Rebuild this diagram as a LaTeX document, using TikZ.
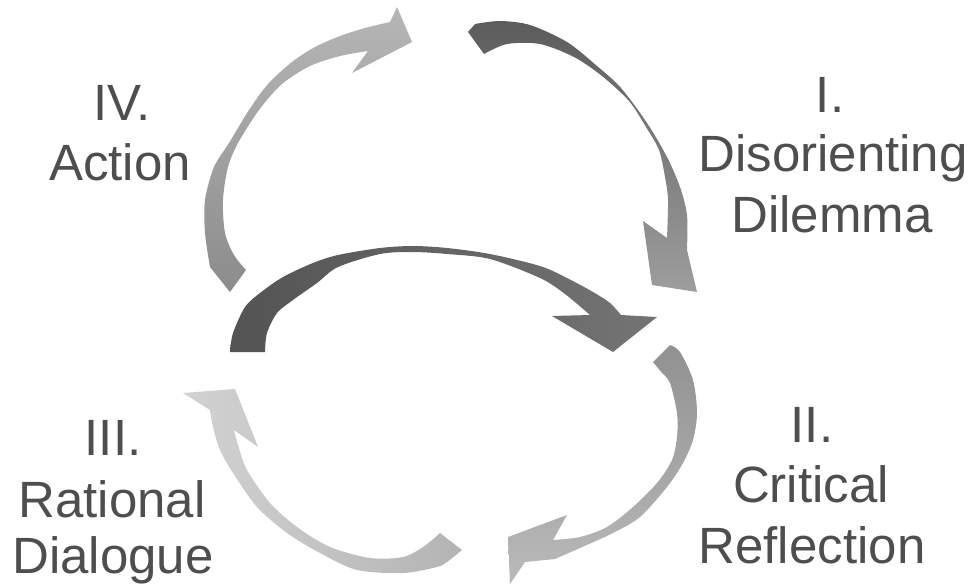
\documentclass[tikz,border=0pt]{standalone}
\usepackage{fontspec}
\setmainfont{Liberation Sans}
\definecolor{txt}{HTML}{4E4E4E}
\tikzset{
  lab/.style={anchor=base, inner sep=0pt, text=txt, font=\fontsize{51}{60}\selectfont},
  arr/.style={draw=none}
}
\begin{document}
\begin{tikzpicture}[x=1pt,y=-1pt]
\useasboundingbox (0,0) rectangle (970,584);
% Arrow IV (top left, light gray)
\shade[arr, bottom color={rgb,255:red,140;green,140;blue,140}, top color={rgb,255:red,182;green,182;blue,182}]
  (230,292) -- (210,267) -- plot[smooth] coordinates {(210,267) (205,233) (205,200) (214,167) (229,143) (249,110) (268,84) (292,62) (315,47) (340,36) (365,28) (390,22)}
  -- (397,7) -- (412,42) -- (352,73) -- (368,51)
  -- plot[smooth] coordinates {(368,51) (340,56) (310,66) (282,84) (259,110) (238,143) (228,167) (223,200) (225,233) (234,255) (246,270)} -- cycle;
% Arrow I (top right, dark)
\shade[arr, top color={rgb,255:red,92;green,92;blue,92}, bottom color={rgb,255:red,158;green,158;blue,158}]
  (468,32) -- plot[smooth] coordinates {(475,24) (500,21) (530,25) (567,42) (597,66) (621,88) (647,123) (667,157) (680,187) (687,215) (687,250)}
  -- (697,292) -- (652,285) -- (643,221) -- (667,238)
  -- plot[smooth] coordinates {(667,238) (668,200) (665,177) (659,150) (646,127) (629,101) (602,76) (574,57) (540,44) (507,44) (484,54)} -- cycle;
% Middle arrow (dark)
\shade[arr, left color={rgb,255:red,84;green,84;blue,84}, right color={rgb,255:red,116;green,116;blue,116}]
  (230,352) -- plot[smooth] coordinates {(230,352) (233,333) (245,307) (260,293) (283,277) (313,263) (338,255) (380,248) (413,246) (447,248) (490,254) (540,266) (567,278) (593,292) (610,303) (621,315)}
  -- (657,317) -- (613,352) -- (552,316) -- (590,315)
  -- plot[smooth] coordinates {(590,315) (565,294) (540,278) (490,259) (447,254) (413,252) (380,254) (338,267) (317,283) (293,300) (277,313) (267,333) (265,352)} -- cycle;
% Arrow II (bottom right, medium gray)
\shade[arr, top color={rgb,255:red,145;green,145;blue,145}, bottom color={rgb,255:red,186;green,186;blue,186}]
  (653,362) -- plot[smooth] coordinates {(670,345) (680,352) (693,380) (697,413) (693,440) (683,463) (667,487) (640,517) (613,533) (580,548) (555,559)}
  -- (525,562) -- (510,584) -- (508,537) -- (567,515) -- (553,540)
  -- plot[smooth] coordinates {(553,540) (580,537) (607,527) (633,507) (657,483) (672,460) (677,437) (677,413) (670,383) (662,373)} -- cycle;
% Arrow III (bottom left, light)
\shade[arr, left color={rgb,255:red,210;green,210;blue,210}, right color={rgb,255:red,180;green,180;blue,180}]
  (462,550) -- plot[smooth] coordinates {(462,550) (447,562) (437,567) (403,573) (357,570) (320,553) (287,533) (257,507) (233,473) (220,450) (213,427) (210,410)}
  -- (183,393) -- (235,389) -- (258,447) -- (234,430)
  -- plot[smooth] coordinates {(234,430) (238,445) (247,470) (270,503) (297,527) (330,547) (370,558) (403,557) (423,547) (440,533)} -- cycle;
% Labels
\node[lab] (ivA) at (122,120) {IV.};
\node[lab] (ivB) at (120,180) {Action};
\node[lab] (iA) at (830,112) {I.};
\node[lab] (iB) at (833,171) {Disorienting};
\node[lab] (iC) at (832,232) {Dilemma};
\node[lab] (iiA) at (812,442) {II.};
\node[lab] (iiB) at (811,502) {Critical};
\node[lab] (iiC) at (812,563) {Reflection};
\node[lab] (iiiA) at (113,455) {III.};
\node[lab] (iiiB) at (112,517) {Rational};
\node[lab] (iiiC) at (113,573) {Dialogue};
\end{tikzpicture}
\end{document}
